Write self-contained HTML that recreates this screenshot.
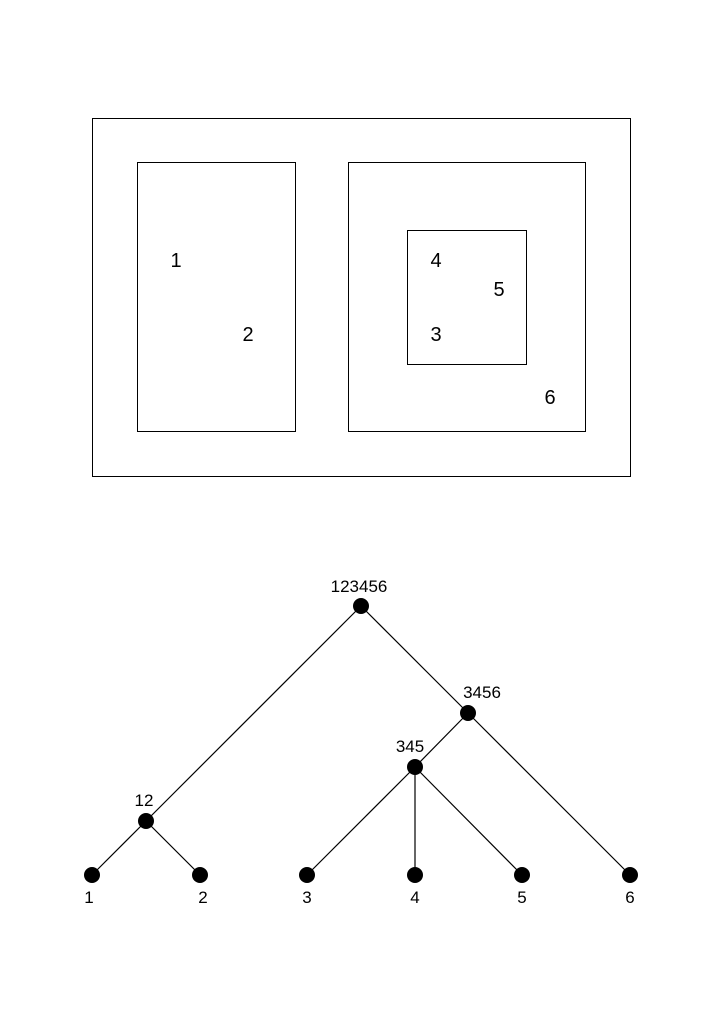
<!DOCTYPE html>
<html><head><meta charset="utf-8"><style>
html,body{margin:0;padding:0;background:#fff;}
svg{display:block;}
text{font-family:"Liberation Sans","DejaVu Sans",sans-serif;fill:#000;}
</style></head><body>
<svg width="724" height="1024" viewBox="0 0 724 1024" xmlns="http://www.w3.org/2000/svg">
<g fill="none" stroke="#000" stroke-width="1">
<rect x="92.5" y="118.5" width="538" height="358"/>
<rect x="137.5" y="162.5" width="158" height="269"/>
<rect x="348.5" y="162.5" width="237" height="269"/>
<rect x="407.5" y="230.5" width="119" height="134"/>
</g>
<g font-size="20" text-anchor="middle">
<text x="176" y="267">1</text>
<text x="248" y="341">2</text>
<text x="436" y="267">4</text>
<text x="499" y="296">5</text>
<text x="436" y="341">3</text>
<text x="550" y="404">6</text>
</g>
<g stroke="#000" stroke-width="1.2">
<line x1="361" y1="606" x2="146" y2="821"/>
<line x1="361" y1="606" x2="468" y2="713"/>
<line x1="468" y1="713" x2="630" y2="875"/>
<line x1="468" y1="713" x2="415" y2="767"/>
<line x1="415" y1="767" x2="307" y2="875"/>
<line x1="415" y1="767" x2="415" y2="875"/>
<line x1="415" y1="767" x2="522" y2="875"/>
<line x1="146" y1="821" x2="92" y2="875"/>
<line x1="146" y1="821" x2="200" y2="875"/>
</g>
<g fill="#000">
<circle cx="361" cy="606" r="8"/>
<circle cx="468" cy="713" r="8"/>
<circle cx="415" cy="767" r="8"/>
<circle cx="146" cy="821" r="8"/>
<circle cx="92" cy="875" r="8"/>
<circle cx="200" cy="875" r="8"/>
<circle cx="307" cy="875" r="8"/>
<circle cx="415" cy="875" r="8"/>
<circle cx="522" cy="875" r="8"/>
<circle cx="630" cy="875" r="8"/>
</g>
<g font-size="17" text-anchor="middle">
<text x="359" y="592">123456</text>
<text x="482" y="698">3456</text>
<text x="410" y="752">345</text>
<text x="144" y="806">12</text>
<text x="89" y="903">1</text>
<text x="203" y="903">2</text>
<text x="307" y="903">3</text>
<text x="415" y="903">4</text>
<text x="522" y="903">5</text>
<text x="630" y="903">6</text>
</g>
</svg>
</body></html>
